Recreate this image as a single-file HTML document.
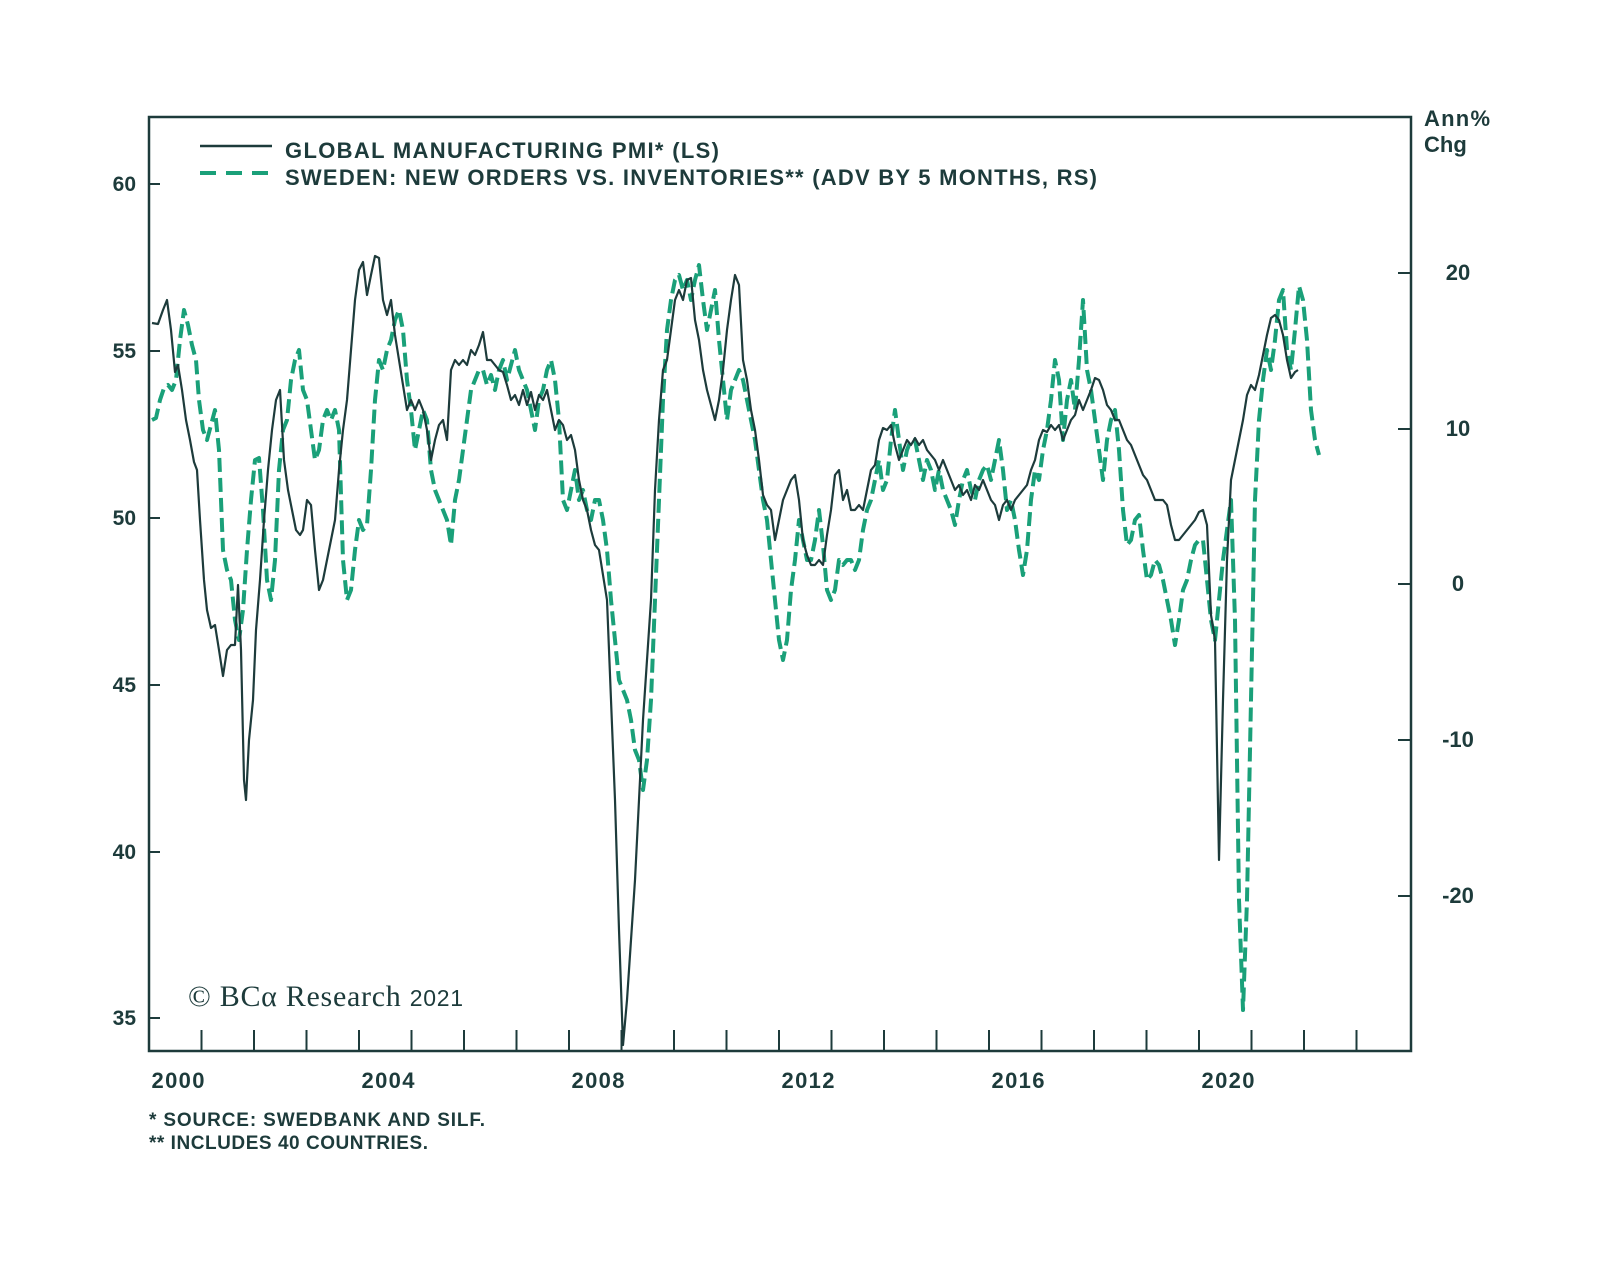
<!DOCTYPE html>
<html><head><meta charset="utf-8"><style>
body{margin:0;background:#fff;}
svg text{font-family:"Liberation Sans",sans-serif;font-weight:bold;fill:#1d3b3b;}
</style></head><body>
<svg width="1600" height="1265" viewBox="0 0 1600 1265" xmlns="http://www.w3.org/2000/svg">
<rect x="149" y="117" width="1262" height="934" fill="none" stroke="#1d3b3b" stroke-width="2.5"/>
<g stroke="#1d3b3b" stroke-width="2">
<line x1="149" y1="184" x2="160" y2="184"/><line x1="149" y1="351" x2="160" y2="351"/><line x1="149" y1="518" x2="160" y2="518"/><line x1="149" y1="685" x2="160" y2="685"/><line x1="149" y1="852" x2="160" y2="852"/><line x1="149" y1="1018" x2="160" y2="1018"/>
<line x1="1411" y1="273" x2="1398" y2="273"/><line x1="1411" y1="429" x2="1398" y2="429"/><line x1="1411" y1="584" x2="1398" y2="584"/><line x1="1411" y1="740" x2="1398" y2="740"/><line x1="1411" y1="896" x2="1398" y2="896"/>
<path d="M201.5 1051v-21M254 1051v-21M306.5 1051v-21M359 1051v-21M411.5 1051v-21M464 1051v-21M516.5 1051v-21M569 1051v-21M621.5 1051v-21M674 1051v-21M726.5 1051v-21M779 1051v-21M831.5 1051v-21M884 1051v-21M936.5 1051v-21M989 1051v-21M1041.5 1051v-21M1094 1051v-21M1146.5 1051v-21M1199 1051v-21M1251.5 1051v-21M1304 1051v-21M1356.5 1051v-21"/>
</g>
<g font-size="21" text-anchor="end">
<text x="136" y="191">60</text><text x="136" y="358">55</text><text x="136" y="525">50</text><text x="136" y="692">45</text><text x="136" y="859">40</text><text x="136" y="1025">35</text>
</g>
<g font-size="22" text-anchor="middle">
<text x="1458" y="280">20</text><text x="1458" y="436">10</text><text x="1458" y="591">0</text><text x="1458" y="747">-10</text><text x="1458" y="903">-20</text>
<text x="178" y="1088" textLength="53">2000</text><text x="388" y="1088" textLength="53">2004</text><text x="598" y="1088" textLength="53">2008</text><text x="808" y="1088" textLength="53">2012</text><text x="1018" y="1088" textLength="53">2016</text><text x="1228" y="1088" textLength="53">2020</text>
</g>
<text x="1424" y="126" font-size="22" textLength="66">Ann%</text><text x="1424" y="152" font-size="22">Chg</text>
<line x1="200" y1="146" x2="272" y2="146" stroke="#1d3b3b" stroke-width="2.5"/>
<line x1="200" y1="173" x2="272" y2="173" stroke="#1aa079" stroke-width="4" stroke-dasharray="16,10"/>
<text x="285" y="158" font-size="22" textLength="434">GLOBAL MANUFACTURING PMI* (LS)</text>
<text x="285" y="185" font-size="22" textLength="812">SWEDEN: NEW ORDERS VS. INVENTORIES** (ADV BY 5 MONTHS, RS)</text>
<text x="188" y="1006" font-size="30" textLength="275" style="font-family:'Liberation Serif',serif;font-weight:normal">© BCα Research <tspan font-size="23" style="font-family:'Liberation Sans',sans-serif">2021</tspan></text>
<text x="149" y="1126" font-size="19" textLength="336">*  SOURCE: SWEDBANK AND SILF.</text>
<text x="149" y="1149" font-size="19" textLength="279">** INCLUDES 40 COUNTRIES.</text>
<polyline fill="none" stroke="#1aa079" stroke-width="4" stroke-dasharray="14,6" stroke-linejoin="round" points="152,420 156,418 160,400 164,388 168,385 172,390 176,380 180,340 184,310 188,325 192,345 196,360 199,400 203,430 207,440 211,425 215,410 219,450 223,550 227,570 231,580 235,620 239,640 243,610 247,550 251,500 255,460 259,458 263,510 267,580 271,600 275,560 279,470 283,430 287,420 291,380 295,360 299,350 303,390 307,400 311,430 315,460 319,450 323,420 327,410 331,420 335,410 339,430 343,560 347,600 351,590 355,550 359,520 363,530 367,525 371,470 375,400 379,360 383,370 387,350 391,340 395,320 399,310 403,330 407,380 411,410 415,450 419,430 423,410 427,420 431,470 435,490 439,500 443,510 447,520 451,545 455,500 459,480 463,450 467,420 471,390 475,380 479,370 483,370 487,385 491,375 495,390 499,370 503,360 507,380 511,365 515,350 519,370 523,380 527,390 531,410 535,430 539,400 543,390 547,370 551,360 555,380 559,420 563,500 567,510 571,490 575,470 579,500 583,490 587,510 591,520 595,500 599,500 603,520 607,550 611,600 615,640 619,680 623,690 627,700 631,720 635,750 639,760 643,790 647,760 651,700 655,600 659,500 663,400 667,330 671,300 675,280 679,275 683,290 687,280 691,300 695,280 699,265 703,300 707,330 711,310 715,290 719,340 723,380 727,420 731,390 735,380 739,370 743,380 747,400 751,420 755,440 759,470 763,500 767,520 771,560 775,600 779,640 783,660 787,640 791,590 795,560 799,520 803,540 807,560 811,560 815,540 819,510 823,545 827,590 831,600 835,590 839,560 843,565 847,560 851,560 855,570 859,560 863,530 867,510 871,500 875,480 879,460 883,490 887,480 891,440 895,410 899,440 903,470 907,450 911,440 915,440 919,460 923,480 927,460 931,470 935,490 939,470 943,490 947,500 951,510 955,525 959,500 963,480 967,470 971,490 975,500 979,480 983,470 987,465 991,480 995,460 999,440 1003,470 1007,510 1011,500 1015,520 1019,550 1023,575 1027,550 1031,500 1035,470 1039,480 1043,450 1047,430 1051,400 1055,360 1059,380 1063,440 1067,400 1071,380 1075,410 1079,360 1083,300 1087,370 1091,390 1095,420 1099,450 1103,480 1107,440 1111,420 1115,410 1119,450 1123,510 1127,545 1131,540 1135,520 1139,515 1143,550 1147,580 1151,575 1155,560 1159,565 1163,580 1167,600 1171,620 1175,645 1179,620 1183,590 1187,580 1191,560 1195,545 1199,540 1203,540 1207,580 1211,620 1215,640 1219,600 1223,560 1227,530 1231,500 1235,620 1239,900 1243,1010 1247,900 1251,700 1255,500 1259,420 1263,380 1267,350 1271,370 1275,340 1279,300 1283,290 1287,350 1291,370 1295,330 1299,286 1303,300 1307,340 1311,410 1315,440 1319,455"/>
<polyline fill="none" stroke="#1d3b3b" stroke-width="2.2" stroke-linejoin="round" points="152,323 158,324 163,310 167,300 171,330 175,372 178,365 182,390 186,420 190,440 194,462 197,470 200,520 204,580 207,610 211,628 215,625 219,650 223,676 227,650 231,645 235,645 238,585 241,650 244,780 246,800 249,740 253,700 256,630 260,580 264,520 268,470 272,430 276,400 280,390 284,460 288,490 292,510 296,530 300,535 303,530 307,500 311,505 315,550 319,590 323,580 327,560 331,540 335,520 339,470 343,430 347,400 351,350 355,300 359,270 363,262 367,295 371,275 375,256 379,258 383,300 387,315 391,300 395,335 399,360 403,385 407,410 411,400 415,410 419,400 423,410 427,430 431,460 435,440 439,425 443,420 447,440 451,370 455,360 459,365 463,360 467,365 471,350 475,355 479,345 483,332 487,360 491,360 495,365 499,370 503,372 507,385 511,400 515,395 519,405 523,390 527,405 531,392 535,410 539,395 543,400 547,390 551,410 555,430 559,420 563,425 567,440 571,435 575,450 579,480 583,500 587,510 591,530 595,545 599,550 603,575 607,600 611,700 615,800 619,930 623,1045 627,1000 631,940 635,880 639,800 643,720 647,660 651,600 655,490 659,420 663,370 667,360 671,330 675,300 679,290 683,300 687,280 691,278 695,320 699,340 703,370 707,390 711,405 715,420 719,400 723,370 727,330 731,300 735,275 739,285 743,360 747,380 751,410 755,430 759,460 763,495 767,505 771,510 775,540 779,520 783,500 787,490 791,480 795,475 799,500 803,540 807,555 811,565 815,565 819,560 823,565 827,535 831,510 835,475 839,470 843,500 847,490 851,510 855,510 859,505 863,510 867,490 871,470 875,465 879,440 883,428 887,430 891,425 895,445 899,460 903,450 907,440 911,445 915,438 919,445 923,440 927,450 931,455 935,460 939,470 943,460 947,470 951,480 955,490 959,485 963,495 967,490 971,500 975,485 979,490 983,480 987,490 991,500 995,505 999,520 1003,505 1007,500 1011,510 1015,500 1019,495 1023,490 1027,485 1031,470 1035,460 1039,440 1043,430 1047,432 1051,425 1055,430 1059,425 1063,440 1067,430 1071,420 1075,415 1079,400 1083,410 1087,400 1091,390 1095,378 1099,380 1103,390 1107,405 1111,410 1115,420 1119,420 1123,430 1127,440 1131,445 1135,455 1139,465 1143,475 1147,480 1151,490 1155,500 1159,500 1163,500 1167,505 1171,525 1175,540 1179,540 1183,535 1187,530 1191,525 1195,520 1199,512 1203,510 1207,525 1211,615 1215,640 1219,860 1223,700 1227,560 1231,480 1235,460 1239,440 1243,420 1247,395 1251,385 1255,390 1259,375 1263,355 1267,335 1271,318 1275,315 1279,320 1283,335 1287,360 1291,378 1295,372 1298,370"/>
</svg>
</body></html>
